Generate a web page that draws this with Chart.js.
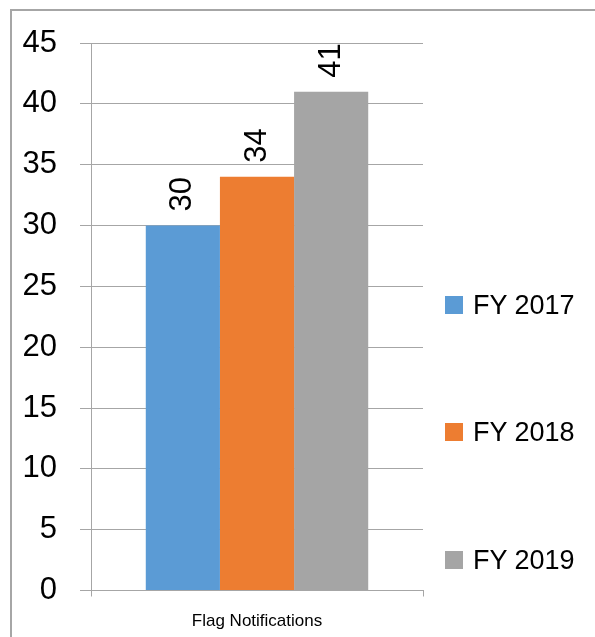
<!DOCTYPE html>
<html>
<head>
<meta charset="utf-8">
<script src="https://cdn.jsdelivr.net/npm/chart.js@4/dist/chart.umd.min.js"></script>
<style>
    body { margin: 0; background: #fff; overflow: hidden; }
    #wrap { position: relative; width: 595px; height: 637px; }
    #frame {
        position: absolute; left: 10px; top: 9px; width: 700px; height: 700px;
        border-left: 2px solid #a6a6a6; border-top: 2px solid #a6a6a6;
    }
    #legend { position: absolute; left: 445px; top: 0; }
    .item { position: absolute; left: 0; width: 150px; height: 30px; white-space: nowrap;
            font-family: "Liberation Sans", Arial, sans-serif; font-size: 27px; color: #000; }
    .item span.box { position: absolute; left: 0; top: 6px; width: 18px; height: 18px; }
    .item span.txt { position: absolute; left: 28px; top: 0; line-height: 30px; }
</style>
</head>
<body>
<div id="wrap">
    <div id="frame"></div>
    <canvas id="flagChart"></canvas>
    <div id="legend"></div>
</div>
<script>
var categories = ['Flag Notifications'];
var seriesNames = ['FY 2017', 'FY 2018', 'FY 2019'];
var fy2017 = [30];
var fy2018 = [34];
var fy2019 = [41];
var seriesColors = ['#5b9bd5', '#ed7d31', '#a5a5a5'];
var yMax = 45;
var yStep = 5;

var valueLabels = {
    id: 'valueLabels',
    afterDatasetsDraw: function(chart) {
        var ctx = chart.ctx;
        chart.data.datasets.forEach(function(ds, i) {
            chart.getDatasetMeta(i).data.forEach(function(bar, j) {
                ctx.save();
                ctx.translate(bar.x, bar.y - 14);
                ctx.rotate(-Math.PI / 2);
                ctx.font = '31px "Liberation Sans", Arial, sans-serif';
                ctx.fillStyle = '#000';
                ctx.textAlign = 'left';
                ctx.textBaseline = 'middle';
                ctx.fillText(String(ds.data[j]), 0, 0);
                ctx.restore();
            });
        });
    }
};

var flagChartConfig = {
    type: 'bar',
    data: {
        labels: categories,
        datasets: [
            { label: seriesNames[0], data: fy2017, backgroundColor: seriesColors[0] },
            { label: seriesNames[1], data: fy2018, backgroundColor: seriesColors[1] },
            { label: seriesNames[2], data: fy2019, backgroundColor: seriesColors[2] }
        ]
    },
    options: {
        responsive: true,
        maintainAspectRatio: false,
        animation: false,
        categoryPercentage: 0.67,
        barPercentage: 1,
        layout: { padding: { left: 22, right: 172, top: 43, bottom: 0 } },
        plugins: {
            legend: { display: false },
            tooltip: { enabled: false }
        },
        scales: {
            x: {
                grid: { drawOnChartArea: false, drawTicks: true, tickLength: 6, color: '#a6a6a6' },
                border: { color: '#a6a6a6' },
                ticks: { color: '#000', padding: 15, font: { family: '"Liberation Sans", Arial, sans-serif', size: 17 } },
                afterFit: function(scale) { scale.height = 46.5; }
            },
            y: {
                min: 0,
                max: yMax,
                grid: { color: '#a6a6a6', tickLength: 11 },
                border: { color: '#a6a6a6' },
                ticks: { stepSize: yStep, color: '#000', padding: 23, font: { family: '"Liberation Sans", Arial, sans-serif', size: 31 } },
                afterFit: function(scale) { scale.width = 69; }
            }
        }
    },
    plugins: [valueLabels]
};

window.onload = function() {
    var ctx = document.getElementById('flagChart').getContext('2d');
    window.flagChart = new Chart(ctx, flagChartConfig);

    var legendTops = [305, 432, 560];
    var legend = document.getElementById('legend');
    seriesNames.forEach(function(name, i) {
        var item = document.createElement('div');
        item.className = 'item';
        item.style.top = (legendTops[i] - 15) + 'px';
        item.innerHTML = '<span class="box" style="background:' + seriesColors[i] + '"></span><span class="txt">' + name + '</span>';
        legend.appendChild(item);
    });
};
</script>
</body>
</html>
